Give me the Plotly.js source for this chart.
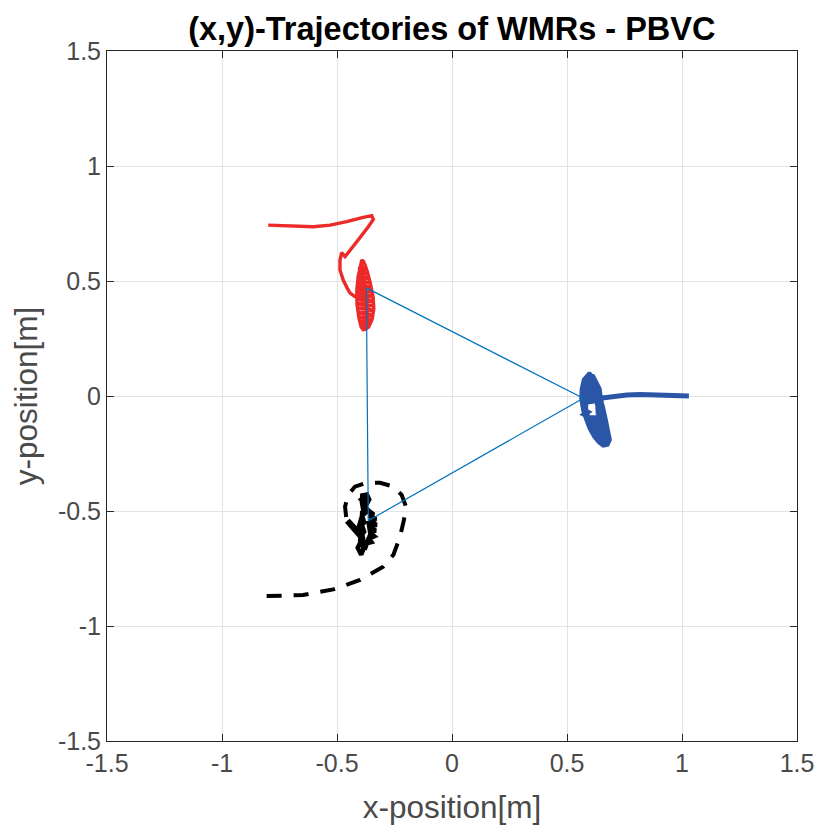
<!DOCTYPE html>
<html>
<head>
<meta charset="utf-8">
<script src="https://cdn.plot.ly/plotly-3.0.1.min.js"></script>
<style>html,body{margin:0;padding:0;background:#fff;}#chart{width:823px;height:832px;}</style>
</head>
<body>
<div id="chart"></div>
<script>
// Robot 1 (red) trajectory
const redX = [-0.799,-0.704,-0.603,-0.530,-0.458,-0.386,-0.349,-0.342,-0.364,-0.414,-0.458,-0.465,-0.480,-0.487,-0.487,-0.473,-0.455,-0.443,-0.422,
  -0.405,-0.398,-0.392,-0.385,-0.400,-0.372,-0.405,-0.365,-0.410,-0.360,-0.412,-0.355,-0.413,-0.352,-0.414,-0.348,-0.414,-0.345,-0.414,-0.342,-0.414,-0.340,-0.412,-0.341,-0.410,-0.343,-0.405,-0.350,-0.400,-0.358,-0.395,-0.370,-0.386,
  -0.395,-0.405,-0.413,-0.414,-0.408,-0.400,-0.392,-0.380,-0.368,-0.355,-0.343,-0.340,-0.347,-0.362,-0.380,-0.378,-0.3725];
const redY = [0.743,0.740,0.736,0.743,0.758,0.777,0.784,0.768,0.736,0.671,0.613,0.606,0.623,0.591,0.548,0.504,0.468,0.447,0.432,
  0.430,0.500,0.590,0.585,0.560,0.555,0.540,0.535,0.520,0.515,0.500,0.495,0.480,0.475,0.460,0.455,0.440,0.435,0.420,0.415,0.400,0.395,0.380,0.375,0.360,0.355,0.340,0.335,0.320,0.315,0.300,0.295,0.288,
  0.300,0.340,0.400,0.460,0.520,0.565,0.592,0.575,0.540,0.490,0.430,0.380,0.335,0.300,0.287,0.400,0.470];

// Robot 2 (blue) trajectory
const blueX = [1.030,0.980,0.900,0.820,0.760,0.710,0.670,0.645,
  0.640,0.620,0.600,0.590,0.605,0.575,0.625,0.568,0.632,0.565,0.638,0.564,0.645,0.565,0.648,
  0.566,0.588,0.568,0.588,0.570,0.590,0.575,0.595,
  0.580,0.662,0.585,0.666,0.590,0.670,0.597,0.674,0.605,0.678,0.613,0.681,0.625,0.683,0.640,0.680,0.660,
  0.668,0.662,0.630,0.658,0.628,0.655,0.627,0.652,0.625,0.648,
  0.642,0.628,0.612,0.595,0.575,0.566,0.564,0.572,0.585,0.600,0.620,0.640,0.658,0.675,0.684,0.680,0.668,0.655,0.645,0.600,0.571];
const blueY = [0.000,0.002,0.007,0.006,0.004,0.000,-0.006,-0.010,
  0.030,0.070,0.092,0.085,0.080,0.065,0.060,0.045,0.040,0.025,0.020,0.005,0.000,-0.015,-0.018,
  -0.030,-0.035,-0.045,-0.052,-0.060,-0.070,-0.080,-0.090,
  -0.095,-0.095,-0.110,-0.110,-0.125,-0.125,-0.140,-0.140,-0.155,-0.155,-0.170,-0.170,-0.185,-0.185,-0.200,-0.200,-0.213,
  -0.150,-0.095,-0.085,-0.080,-0.070,-0.060,-0.050,-0.040,-0.030,-0.020,
  0.010,0.055,0.085,0.093,0.070,0.030,-0.010,-0.060,-0.100,-0.140,-0.175,-0.200,-0.213,-0.210,-0.190,-0.160,-0.110,-0.050,-0.015,-0.012,-0.010];

// Robot 3 (black, dashed) trajectory: approach spiral, then settling scribble
const blackArcX = [-0.806,-0.647,-0.516,-0.400,-0.299,-0.255,-0.226,-0.209,-0.200,-0.219,-0.255,-0.313,-0.371,-0.422,-0.451,-0.465,-0.461,-0.458];
const blackArcY = [-0.870,-0.865,-0.841,-0.800,-0.742,-0.691,-0.612,-0.539,-0.481,-0.430,-0.394,-0.377,-0.377,-0.394,-0.430,-0.481,-0.517,-0.545];
const blackBlobX = [-0.458,-0.430,-0.405,-0.400,-0.425,-0.452,-0.440,-0.410,
  -0.385,-0.392,-0.390,-0.370,-0.360,-0.375,-0.395,-0.380,-0.365,-0.378,
  -0.360,-0.340,-0.362,-0.330,-0.360,-0.328,-0.358,-0.332,-0.358,-0.338,-0.360,-0.350,-0.368,
  -0.385,-0.390,-0.382,-0.392,-0.382,-0.390,-0.378,-0.390,
  -0.395,-0.400,-0.410,-0.395,-0.385,-0.390,-0.375,-0.355,-0.364];
const blackBlobY = [-0.545,-0.575,-0.605,-0.600,-0.570,-0.540,-0.550,-0.585,
  -0.500,-0.460,-0.432,-0.428,-0.450,-0.470,-0.450,-0.440,-0.460,-0.485,
  -0.500,-0.515,-0.520,-0.535,-0.545,-0.560,-0.570,-0.585,-0.595,-0.610,-0.620,-0.635,-0.640,
  -0.630,-0.600,-0.590,-0.560,-0.550,-0.520,-0.510,-0.500,
  -0.580,-0.640,-0.660,-0.690,-0.665,-0.640,-0.655,-0.600,-0.542];

// Final formation triangle (closed)
const triX = [-0.3725,0.571,-0.364,-0.3725];
const triY = [0.470,-0.010,-0.542,0.470];

// Axis ticks
const tickVals = [-1.5,-1,-0.5,0,0.5,1,1.5];
const tickText = ["-1.5","-1","-0.5","0","0.5","1","1.5"];

const traces = [
  {x: redX, y: redY, type: 'scatter', mode: 'lines', line: {color: '#ec2a2a', width: 3.4}, hoverinfo: 'skip'},
  {x: blueX, y: blueY, type: 'scatter', mode: 'lines', line: {color: '#2b56a8', width: 5}, hoverinfo: 'skip'},
  {x: blackArcX, y: blackArcY, type: 'scatter', mode: 'lines', line: {color: '#000000', width: 4, dash: '15px,12px'}, hoverinfo: 'skip'},
  {x: blackBlobX, y: blackBlobY, type: 'scatter', mode: 'lines', line: {color: '#000000', width: 4.5}, hoverinfo: 'skip'},
  {x: triX, y: triY, type: 'scatter', mode: 'lines', line: {color: '#0072bd', width: 1.2}, hoverinfo: 'skip'}
];

const axisCommon = {
  range: [-1.5, 1.5],
  tickmode: 'array',
  tickvals: tickVals,
  ticktext: tickText,
  showgrid: true,
  gridcolor: '#e3e3e3',
  gridwidth: 1,
  zeroline: false,
  showline: true,
  mirror: 'allticks',
  linecolor: '#262626',
  linewidth: 1,
  ticks: 'inside',
  ticklen: 7,
  tickcolor: '#262626',
  tickfont: {family: 'Liberation Sans, Arial, sans-serif', size: 25, color: '#4a4a4a'}
};

const layout = {
  width: 823,
  height: 832,
  margin: {l: 107, r: 26, t: 51, b: 91},
  paper_bgcolor: '#ffffff',
  plot_bgcolor: '#ffffff',
  showlegend: false,
  title: {
    text: '(x,y)-Trajectories of WMRs - PBVC',
    font: {family: 'Liberation Sans, Arial, sans-serif', size: 32.5, color: '#000000', weight: 'bold'},
    x: 0.549, xanchor: 'center',
    y: 0.965, yanchor: 'middle', yref: 'container'
  },
  xaxis: Object.assign({}, axisCommon, {
    title: {text: 'x-position[m]', font: {family: 'Liberation Sans, Arial, sans-serif', size: 31.5, color: '#4a4a4a'}, standoff: 19}
  }),
  yaxis: Object.assign({}, axisCommon, {
    title: {text: 'y-position[m]', font: {family: 'Liberation Sans, Arial, sans-serif', size: 31.5, color: '#4a4a4a'}, standoff: 10}
  })
};

Plotly.newPlot('chart', traces, layout, {displayModeBar: false, staticPlot: true});
</script>
</body>
</html>
